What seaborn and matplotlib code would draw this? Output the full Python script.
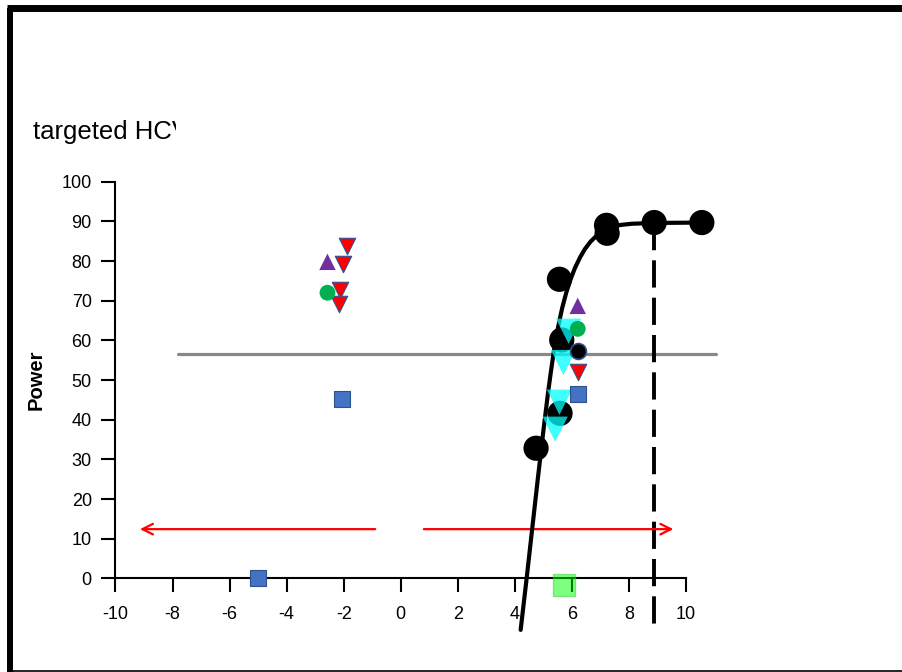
import matplotlib
matplotlib.use('Agg')
import matplotlib.pyplot as plt
import seaborn as sns
import pandas as pd
from matplotlib.lines import Line2D
from matplotlib.patches import Rectangle

# fitted curve
curve_x = [4.20, 4.41, 4.60, 4.80, 5.00, 5.15, 5.25, 5.35, 5.50, 5.65, 5.80, 5.95, 6.10,
           6.28, 6.45, 6.65, 6.85, 7.10, 7.40, 7.70, 8.10, 8.88, 10.55]
curve_y = [-13.0, 0.0, 12.2, 25.0, 37.4, 46.2, 51.6, 56.6, 62.9, 68.0, 72.1, 75.4, 78.2,
           80.9, 83.0, 84.9, 86.3, 87.6, 88.6, 89.1, 89.4, 89.6, 89.7]

# big black points
black_x = [4.74, 5.56, 5.58, 5.64, 7.21, 7.23, 8.88, 10.55]
black_y = [32.8, 75.4, 41.6, 60.1, 89.0, 87.0, 89.7, 89.7]

# cyan triangles
cyan_x = [5.88, 5.70, 5.56, 5.41]
cyan_y = [62.3, 54.4, 44.4, 37.6]

# small markers
red_x = [-1.89, -2.01, -2.13, -2.15, 6.20]
red_y = [83.9, 79.2, 72.6, 69.1, 51.9]
purple_x = [-2.57, 6.20]
purple_y = [79.8, 68.7]
green_x = [-2.57, 6.20]
green_y = [72.0, 62.9]
blue_x = [-2.05, -5.02, 6.20]
blue_y = [45.1, 0.0, 46.5]
dot_x = [6.20]
dot_y = [57.3]
lime_x = [5.73]
lime_y = [-1.8]

# reference lines
threshold = 56.6
threshold_span = [-7.80, 11.05]
cutoff_x = 8.88
cutoff_span = [89.7, -13.0]
arrow_y = 12.4
left_arrow = [-0.80, -9.24]
right_arrow = [0.71, 9.65]

x_ticks = list(range(-10, 11, 2))
y_ticks = list(range(0, 101, 10))

sns.set_style('white')
plt.rcParams['font.family'] = ['Liberation Sans', 'DejaVu Sans']
plt.rcParams['text.color'] = 'black'

fig = plt.figure(figsize=(9.02, 6.72), dpi=100)
ax = fig.add_axes([0.128, 0.1394, 0.6327, 0.5902])

# gray threshold line
ax.plot(threshold_span, [threshold, threshold], color='#888888', lw=2.3, clip_on=False, zorder=1)

# red arrows
for a in (left_arrow, right_arrow):
    ax.annotate('', xy=(a[1], arrow_y), xytext=(a[0], arrow_y),
                arrowprops=dict(arrowstyle='->', color='red', lw=1.6, mutation_scale=19),
                annotation_clip=False)

# dashed cutoff
ax.plot([cutoff_x, cutoff_x], cutoff_span, color='black', lw=2.8, ls=(0, (7, 2.6)),
        clip_on=False, zorder=2)

# fitted curve
curve = pd.DataFrame({'x': curve_x, 'y': curve_y})
sns.lineplot(data=curve, x='x', y='y', sort=False, color='black', lw=3.0, ax=ax,
             clip_on=False, zorder=3)

sns.scatterplot(x=black_x, y=black_y, s=330, color='black', edgecolor='none', ax=ax,
                clip_on=False, zorder=4)
sns.scatterplot(x=cyan_x, y=cyan_y, marker='v', s=330, color='#00FFFF', alpha=0.75,
                edgecolor='none', ax=ax, clip_on=False, zorder=5)
sns.scatterplot(x=red_x, y=red_y, marker='v', s=140, color='#FF0000', edgecolor='#2F528F',
                linewidth=0.8, ax=ax, clip_on=False, zorder=6)
sns.scatterplot(x=purple_x, y=purple_y, marker='^', s=140, color='#7030A0', edgecolor='none',
                ax=ax, clip_on=False, zorder=6)
sns.scatterplot(x=green_x, y=green_y, marker='o', s=130, color='#00B050', edgecolor='none',
                ax=ax, clip_on=False, zorder=6)
sns.scatterplot(x=blue_x, y=blue_y, marker='s', s=130, color='#4472C4', edgecolor='#2F528F',
                linewidth=0.8, ax=ax, clip_on=False, zorder=6)
sns.scatterplot(x=dot_x, y=dot_y, marker='o', s=130, color='black', edgecolor='#2F528F',
                linewidth=1.2, ax=ax, clip_on=False, zorder=6)
sns.scatterplot(x=lime_x, y=lime_y, marker='s', s=260, color='#00FF00', alpha=0.5,
                edgecolor='#33CC33', linewidth=1, ax=ax, clip_on=False, zorder=6)

ax.set_xlim(-10, 10)
ax.set_ylim(0, 100)
ax.set_xticks(x_ticks)
ax.set_yticks(y_ticks)
ax.set_xticklabels([str(t) for t in x_ticks])
ax.set_yticklabels([str(t) for t in y_ticks])
ax.tick_params(direction='out', length=10, width=1.5, labelsize=13, pad=7, color='black',
               labelcolor='black', bottom=True, left=True)
ax.tick_params(axis='x', pad=10)
for side in ('top', 'right'):
    ax.spines[side].set_visible(False)
for side in ('left', 'bottom'):
    ax.spines[side].set_linewidth(1.5)
    ax.spines[side].set_color('black')
ax.set_xlabel('')
ax.set_ylabel('Power', fontsize=14.5, fontweight='bold', color='black')
ax.yaxis.set_label_coords(-0.123, 0.5)
ax.patch.set_alpha(0)

# title text, cut off at the right like the original
fig.text(33 / 902, 1 - 132 / 672, 'targeted HCV', fontsize=18.5, va='center', ha='left',
         color='black', zorder=2)
fig.add_artist(Rectangle((176 / 902, 1 - 160 / 672), 60 / 902, 60 / 672,
                         transform=fig.transFigure, facecolor='white', edgecolor='none',
                         zorder=5))

# outer frame
fig.add_artist(Line2D([10 / 902, 10 / 902], [0, 1 - 7.5 / 672], transform=fig.transFigure,
                      color='black', lw=4.3, solid_capstyle='butt'))
fig.add_artist(Line2D([7 / 902, 1], [1 - 7.5 / 672, 1 - 7.5 / 672], transform=fig.transFigure,
                      color='black', lw=5, solid_capstyle='butt'))
fig.add_artist(Line2D([7 / 902, 1], [1.5 / 672, 1.5 / 672], transform=fig.transFigure,
                      color='black', lw=1.2, solid_capstyle='butt'))

fig.savefig('out.png', dpi=100)
